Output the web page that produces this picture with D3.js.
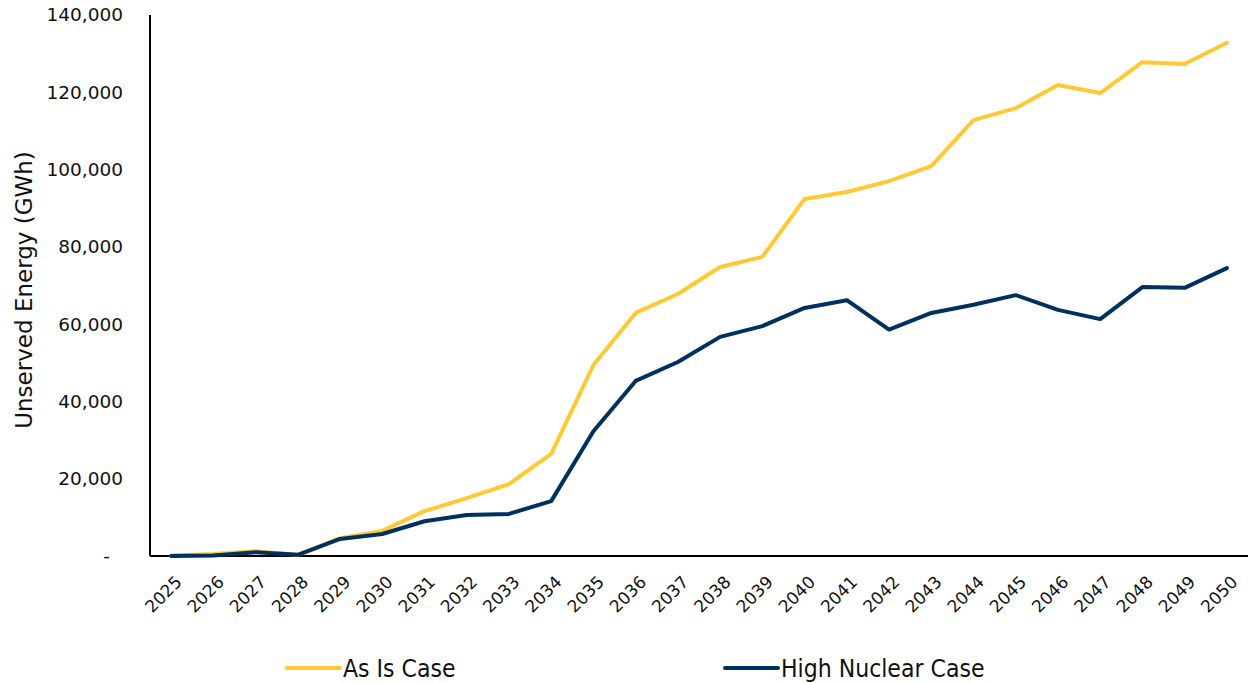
<!DOCTYPE html>
<meta charset="utf-8">
<head>
<style>
body { margin: 0; background: #fff; }
.tick text { font-family: "DejaVu Sans", Verdana, sans-serif; }
</style>
</head>
<script src="https://d3js.org/d3.v7.min.js"></script>
<div id="chart"></div>
<script>

// data
var years = [2025, 2026, 2027, 2028, 2029, 2030, 2031, 2032, 2033, 2034, 2035, 2036, 2037,
             2038, 2039, 2040, 2041, 2042, 2043, 2044, 2045, 2046, 2047, 2048, 2049, 2050];
var asIsCase = [100, 500, 1200, 300, 4600, 6500, 11600, 15000, 18600, 26400, 49400, 62900, 67800,
                74800, 77400, 92400, 94200, 97000, 100900, 112800, 115900, 121900, 119800, 127800, 127300, 132800];
var highNuclearCase = [0, 100, 1000, 300, 4400, 5700, 9000, 10600, 10900, 14200, 32300, 45300, 50200,
                       56700, 59500, 64200, 66200, 58600, 62900, 65000, 67500, 63700, 61300, 69600, 69400, 74500];
var yTicks = [0, 20000, 40000, 60000, 80000, 100000, 120000, 140000];
var seriesNames = ["As Is Case", "High Nuclear Case"];
var seriesColors = ["#FFC933", "#00305F"];

var width = 1248, height = 683;
var margin = {top: 15, right: 0, bottom: 127, left: 150};
var innerW = width - margin.left - margin.right,
    innerH = height - margin.top - margin.bottom;

var svg = d3.select("#chart")
  .append("svg")
    .attr("width", width)
    .attr("height", height);

var g = svg.append("g")
    .attr("transform", "translate(" + margin.left + "," + margin.top + ")");

// x is a point scale with half-step padding at both ends
var x = d3.scalePoint()
  .domain(years)
  .range([0, innerW])
  .padding(0.5);

var y = d3.scaleLinear()
  .domain([0, 140000])
  .range([innerH, 0]);

// Y axis
var fmt = d3.format(",");
var yAxis = d3.axisLeft(y)
  .tickValues(yTicks)
  .tickSize(0)
  .tickPadding(27)
  .tickFormat(function(d) { return d === 0 ? "-" : fmt(d); });

var yg = g.append("g").call(yAxis);
yg.select(".domain").remove();
yg.selectAll("text")
  .style("font-size", "18.5px")
  .attr("fill", "#111")
  .attr("dx", function(d) { return d === 0 ? -13 : 0; });

// X axis
var xAxis = d3.axisBottom(x).tickSize(0);
var xg = g.append("g")
  .attr("transform", "translate(0," + innerH + ")")
  .call(xAxis);
xg.select(".domain").remove();
xg.selectAll("text")
  .style("font-size", "17px")
  .attr("fill", "#111")
  .style("text-anchor", "end")
  .attr("x", 0)
  .attr("y", 0)
  .attr("dy", "0.35em")
  .attr("transform", "translate(7,23) rotate(-45)");

// axis lines
g.append("line")
  .attr("x1", 0).attr("x2", 0)
  .attr("y1", 0).attr("y2", innerH)
  .attr("stroke", "#000").attr("stroke-width", 2);
g.append("line")
  .attr("x1", 0).attr("x2", innerW)
  .attr("y1", innerH).attr("y2", innerH)
  .attr("stroke", "#000").attr("stroke-width", 2);

// Y axis title
svg.append("text")
  .attr("transform", "translate(32,290) rotate(-90)")
  .style("text-anchor", "middle")
  .style("font-family", "'DejaVu Sans', Verdana, sans-serif")
  .style("font-size", "23px")
  .attr("fill", "#111")
  .text("Unserved Energy (GWh)");

// lines
var line = d3.line()
  .x(function(d, i) { return x(years[i]); })
  .y(function(d) { return y(d); });

[asIsCase, highNuclearCase].forEach(function(s, i) {
  g.append("path")
    .datum(s)
    .attr("fill", "none")
    .attr("stroke", seriesColors[i])
    .attr("stroke-width", 4)
    .attr("stroke-linejoin", "round")
    .attr("stroke-linecap", "round")
    .attr("d", line);
});

// legend
var legendX = [287, 725];
var legend = svg.selectAll(".legend")
  .data(seriesNames)
  .enter()
  .append("g")
    .attr("transform", function(d, i) { return "translate(" + legendX[i] + ",668)"; });

legend.append("line")
  .attr("x1", 0).attr("x2", 53)
  .attr("y1", 0).attr("y2", 0)
  .attr("stroke", function(d, i) { return seriesColors[i]; })
  .attr("stroke-width", 4)
  .attr("stroke-linecap", "round");

legend.append("text")
  .attr("x", 56)
  .attr("y", 0)
  .attr("dy", "0.36em")
  .style("font-family", "'DejaVu Sans Condensed', 'Liberation Sans Narrow', sans-serif")
  .style("font-size", "24.5px")
  .attr("fill", "#111")
  .text(function(d) { return d; });

</script>
